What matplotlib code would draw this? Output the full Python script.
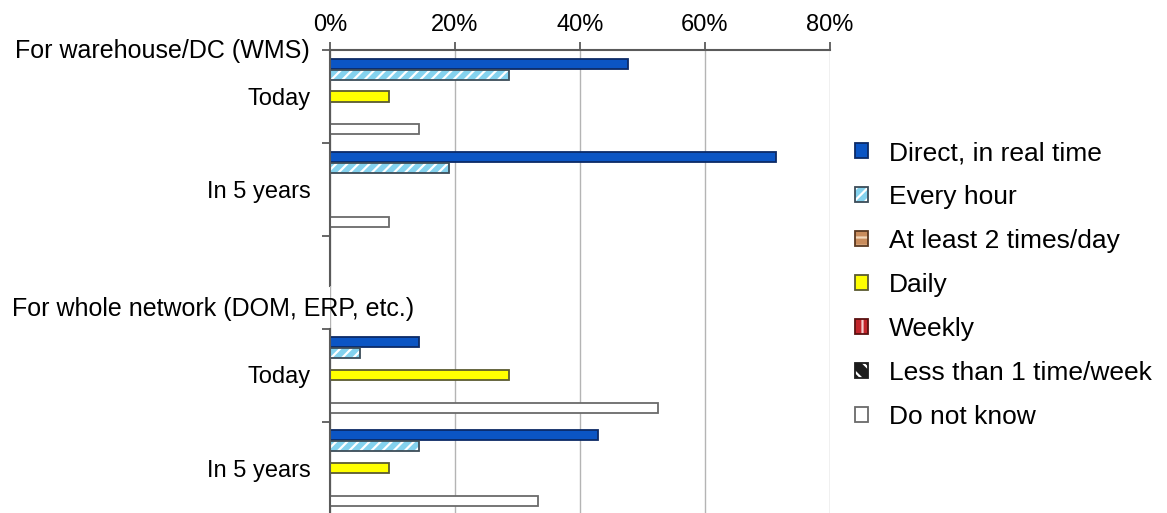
import numpy as np
import matplotlib
matplotlib.use("Agg")
import matplotlib.pyplot as plt
from matplotlib.legend_handler import HandlerTuple

plt.rcParams['font.family'] = ['Liberation Sans', 'DejaVu Sans']
plt.rcParams['hatch.linewidth'] = 1.6

# ---- data (share of respondents, %) ----
series = ["Direct, in real time", "Every hour", "At least 2 times/day", "Daily",
          "Weekly", "Less than 1 time/week", "Do not know"]
periods = ["Today", "In 5 years"]
section_titles = ["For warehouse/DC (WMS)", "For whole network (DOM, ERP, etc.)"]

# warehouse / DC (WMS): [Today, In 5 years]
wms_direct = [47.6, 71.4]
wms_hourly = [28.6, 19.0]
wms_twice_daily = [0, 0]
wms_daily = [9.5, 0]
wms_weekly = [0, 0]
wms_less_weekly = [0, 0]
wms_unknown = [14.3, 9.5]

# whole network (DOM, ERP, etc.): [Today, In 5 years]
net_direct = [14.3, 42.9]
net_hourly = [4.8, 14.3]
net_twice_daily = [0, 0]
net_daily = [28.6, 9.5]
net_weekly = [0, 0]
net_less_weekly = [0, 0]
net_unknown = [52.4, 33.3]

xticks = [0, 20, 40, 60, 80]
xtick_labels = ["0%", "20%", "40%", "60%", "80%"]

# ---- styles ----
styles = [
    dict(face="#0b55c4", hatch=None, hc="#0b55c4", edge="#0c2a66"),
    dict(face="#84d2ee", hatch="///", hc="white", edge="#3c4c58"),
    dict(face="#c98c5c", hatch="--", hc="#f4d8ba", edge="#5a3820"),
    dict(face="#ffff00", hatch=None, hc="#ffff00", edge="#5a5a30"),
    dict(face="#c2252b", hatch="||", hc="#f6cccc", edge="#5a1010"),
    dict(face="#1c1c1c", hatch="\\\\", hc="white", edge="#1c1c1c"),
    dict(face="white", hatch=None, hc="white", edge="#6a6a6a"),
]

FS = 17        # tick and category labels
FS_HEAD = 18   # section headings
FS_LEG = 19    # legend
SPINE = "#5a5a5a"
GRID = "#b4b4b4"
slot = 0.118
bar_h = 0.108

W, H = 1167, 513
fig = plt.figure(figsize=(W / 100, H / 100), dpi=100)


def px_axes(x0, y0, x1, y1):
    return fig.add_axes([x0 / W, 1 - y1 / H, (x1 - x0) / W, (y1 - y0) / H])


ax_top = px_axes(330, 50, 830, 286)
ax_bot = px_axes(330, 286, 830, 513)


def draw_section(ax, data):
    handles = []
    base = np.arange(len(periods))
    for i, (vals, st) in enumerate(zip(data, styles)):
        y = base + (i - 3) * slot
        fill = ax.barh(y, vals, height=bar_h, color=st["face"], hatch=st["hatch"],
                       edgecolor=st["hc"], linewidth=0, zorder=2)
        edge = ax.barh(y, vals, height=bar_h, facecolor="none",
                       edgecolor=st["edge"], linewidth=1.3, zorder=2.1)
        handles.append((fill, edge))
    ax.set_xlim(xticks[0], xticks[-1])
    ax.set_axisbelow(True)
    ax.grid(axis="x", color=GRID, linewidth=1.0)
    ax.grid(axis="y", visible=False)
    for s in ("right", "bottom", "top"):
        ax.spines[s].set_visible(False)
    ax.spines["left"].set_color(SPINE)
    ax.spines["left"].set_linewidth(1.5)
    ax.set_yticks([-0.5, 0.5, 1.5], labels=[])
    ax.set_yticks(base, labels=periods, minor=True)
    ax.tick_params(axis="y", which="major", direction="out", length=6,
                   width=1.3, color=SPINE)
    ax.tick_params(axis="y", which="minor", length=0, pad=14, labelsize=FS)
    ax.set_facecolor("none")
    return handles


handles = draw_section(ax_top, [wms_direct, wms_hourly, wms_twice_daily, wms_daily,
                                wms_weekly, wms_less_weekly, wms_unknown])
draw_section(ax_bot, [net_direct, net_hourly, net_twice_daily, net_daily,
                      net_weekly, net_less_weekly, net_unknown])

# top section: category band of 93 px per period
ax_top.set_ylim(-0.5 + 236 / 93, -0.5)
ax_top.spines["top"].set_visible(True)
ax_top.spines["top"].set_color(SPINE)
ax_top.spines["top"].set_linewidth(1.5)
ax_top.xaxis.tick_top()
ax_top.set_xticks(xticks, labels=xtick_labels)
ax_top.tick_params(axis="x", direction="out", length=6, width=1.3, color=SPINE,
                   pad=4, labelsize=FS)

# bottom section
ax_bot.set_ylim((513 - 375) / 93, -(375 - 286) / 93)
ax_bot.spines["left"].set_bounds(-0.5, (513 - 375) / 93)
ax_bot.set_xticks(xticks, labels=[])
ax_bot.tick_params(axis="x", length=0)

# section headings
fig.text(310 / W, 1 - 58 / H, section_titles[0], ha="right", va="baseline",
         fontsize=FS_HEAD)
fig.text(12 / W, 1 - 316 / H, section_titles[1], ha="left", va="baseline",
         fontsize=FS_HEAD)

fig.legend(handles, series, handler_map={tuple: HandlerTuple(ndivide=1)},
           loc="upper left", bbox_to_anchor=(855 / W, 1 - 141 / H),
           frameon=False, fontsize=FS_LEG, handlelength=0.5, handleheight=0.5,
           handletextpad=0.8, labelspacing=0.76, borderpad=0, borderaxespad=0)

fig.savefig("out.png", dpi=100, facecolor="white")
